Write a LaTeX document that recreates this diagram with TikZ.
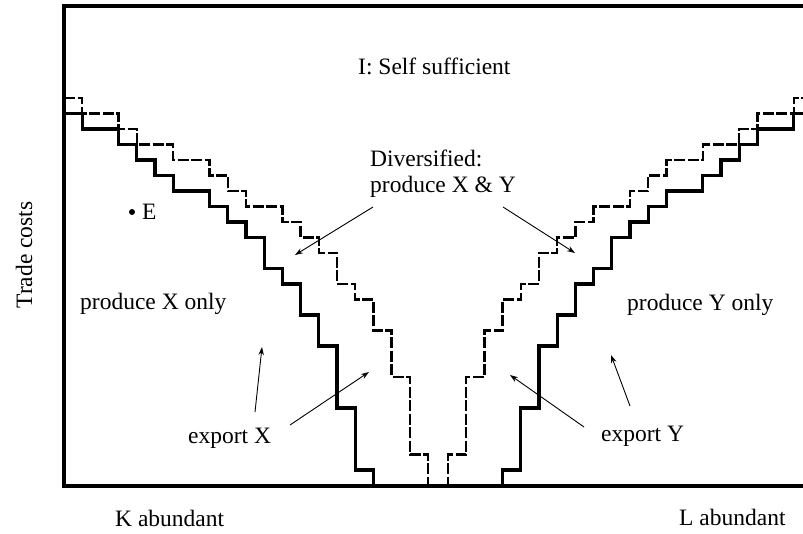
\documentclass[tikz,border=0pt]{standalone}
\usepackage{fontspec}
\setmainfont{Liberation Serif}
\usetikzlibrary{arrows.meta}
\tikzset{
  lbl/.style={anchor=base west,inner sep=0pt,font=\fontsize{23.5}{28}\selectfont},
  frameline/.style={line width=4pt,line join=miter},
  solidstair/.style={line width=3.2pt,line join=miter},
  dashstair/.style={line width=2.4pt,line join=miter,dash pattern=on 11pt off 2.5pt},
  pointer/.style={line width=0.9pt,-{Stealth[length=8pt,width=5.5pt]}},
  solidsteps/.pic={\draw[solidstair] (0,1)--(1,1)--(1,2)--(3,2)--(3,3)--(4,3)--(4,4)--(5,4)--(5,5)--(6,5)--(6,6)--(8,6)--(8,7)--(9,7)--(9,8)--(10,8)--(10,9)--(11,9)--(11,11)--(12,11)--(12,12)--(13,12)--(13,14)--(14,14)--(14,16)--(15,16)--(15,20)--(16,20)--(16,24)--(17,24)--(17,25);},
  dashsteps/.pic={\draw[dashstair] (0,0)--(1,0)--(1,1)--(3,1)--(3,2)--(4,2)--(4,3)--(6,3)--(6,4)--(8,4)--(8,5)--(9,5)--(9,6)--(10,6)--(10,7)--(12,7)--(12,8)--(13,8)--(13,9)--(14,9)--(14,10)--(15,10)--(15,12)--(16,12)--(16,13)--(17,13)--(17,15)--(18,15)--(18,18)--(19,18)--(19,23)--(20,23)--(20,25);}
}
\begin{document}
\begin{tikzpicture}[x=1pt,y=-1pt]
\useasboundingbox (0,0) rectangle (803,534);
\clip (0,0) rectangle (803,534);
% staircases (left)
\begin{scope}[x=18.2pt,y=-15.5pt]
  \pic at (64pt,-98pt) {solidsteps};
  \pic at (64pt,-98pt) {dashsteps};
\end{scope}
% staircases (right, mirrored)
\begin{scope}[x=-18.2pt,y=-15.5pt]
  \pic at (812pt,-98pt) {solidsteps};
  \pic at (812pt,-98pt) {dashsteps};
\end{scope}
% frame
\draw[frameline] (820,6) -- (64,6) -- (64,486) -- (820,486);
% labels
\node[lbl] (self) at (358,75) {I: Self sufficient};
\node[lbl] (div1) at (370,167) {Diversified:};
\node[lbl] (div2) at (370,193) {produce X \& Y};
\node[circle,fill,inner sep=0pt,minimum size=6pt] (dotE) at (132,212) {};
\node[lbl] (E) at (142,220) {E};
\node[lbl] (px) at (80,310) {produce X only};
\node[lbl] (py) at (627,311) {produce Y only};
\node[lbl] (ex) at (188,443) {export X};
\node[lbl] (ey) at (601,441) {export Y};
\node[lbl] (ka) at (115,526) {K abundant};
\node[lbl] (la) at (679,525) {L abundant};
\node[inner sep=0pt,rotate=90,font=\fontsize{23.5}{28}\selectfont] (tc) at (24,255) {Trade costs};
% arrow coordinates
\coordinate (d1s) at (373,207); \coordinate (d1t) at (295,255);
\coordinate (d2s) at (503,207); \coordinate (d2t) at (575,253);
\coordinate (x1s) at (255,412); \coordinate (x1t) at (262,347);
\coordinate (x2s) at (290,425); \coordinate (x2t) at (369,372);
\coordinate (y1s) at (584,427); \coordinate (y1t) at (510,375);
\coordinate (y2s) at (630,406); \coordinate (y2t) at (611,355);
\draw[pointer] (d1s) -- (d1t);
\draw[pointer] (d2s) -- (d2t);
\draw[pointer] (x1s) -- (x1t);
\draw[pointer] (x2s) -- (x2t);
\draw[pointer] (y1s) -- (y1t);
\draw[pointer] (y2s) -- (y2t);
\end{tikzpicture}
\end{document}
